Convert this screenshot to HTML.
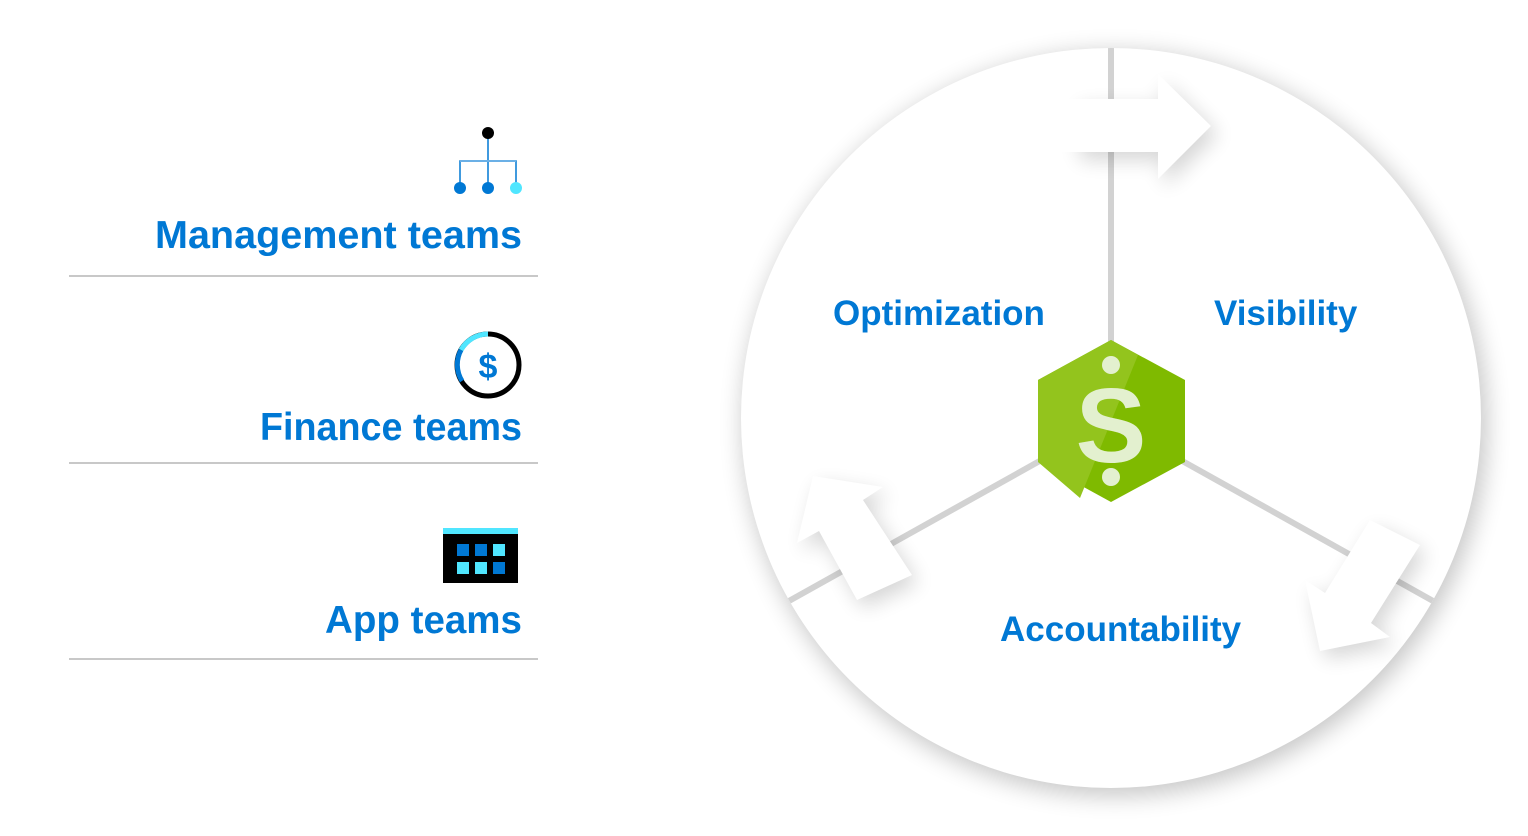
<!DOCTYPE html>
<html><head><meta charset="utf-8"><style>
html,body{margin:0;padding:0;background:#fff;width:1528px;height:836px;overflow:hidden}
svg{display:block}
text{font-family:"Liberation Sans","DejaVu Sans",sans-serif;fill:#0078d4;font-weight:bold}
</style></head><body>
<svg width="1528" height="836" viewBox="0 0 1528 836" xmlns="http://www.w3.org/2000/svg">
<defs>
<filter id="sh" x="-20%" y="-20%" width="140%" height="140%"><feGaussianBlur stdDeviation="12"/></filter>
<filter id="ash" x="-50%" y="-50%" width="200%" height="200%"><feGaussianBlur stdDeviation="10"/></filter>
<clipPath id="cc"><circle cx="1111" cy="418" r="370"/></clipPath>
<linearGradient id="fadeL" x1="0" y1="0" x2="1" y2="0"><stop offset="0" stop-color="#fff" stop-opacity="0"/><stop offset="0.5" stop-color="#fff" stop-opacity="1"/></linearGradient>
</defs>
<circle cx="1115" cy="424" r="372" fill="#000" opacity="0.22" filter="url(#sh)"/>
<circle cx="1111" cy="418" r="370" fill="#fff"/>
<g clip-path="url(#cc)">
<line x1="1111" y1="40" x2="1111" y2="345" stroke="#d2d2d2" stroke-width="6"/>
<line x1="1045" y1="458" x2="780" y2="606" stroke="#d2d2d2" stroke-width="6"/>
<line x1="1177" y1="458" x2="1442" y2="606" stroke="#d2d2d2" stroke-width="6"/>
<g fill="#000" opacity="0.16" filter="url(#ash)">
<polygon points="1080,107 1164,107 1164,82 1218,134 1164,187 1164,160 1080,160"/>
<polygon points="819,484 889,495 869,508 918,583 863,608 825,539 803,551"/>
<polygon points="1311,588 1331,601 1376,528 1426,553 1377,631 1396,645 1326,659"/>
</g>
<rect x="1020" y="99" width="60" height="53" fill="url(#fadeL)"/>
<polygon points="1070,99 1158,99 1158,74 1211,126 1158,179 1158,152 1070,152" fill="#fff"/>
<polygon points="813,476 883,487 863,500 912,575 857,600 819,531 797,543" fill="#fff"/>
<polygon points="1305,580 1325,593 1370,520 1420,545 1371,623 1390,637 1320,651" fill="#fff"/>
</g>
<polygon points="1111,340 1185,380 1185,462 1111,502 1038,462 1038,380" fill="#7fba00"/>
<polygon points="1111,340 1138,355 1080,498 1038,462 1038,380" fill="#93c41d"/>
<circle cx="1111" cy="365" r="9" fill="#e3f0cf"/>
<circle cx="1111" cy="477" r="9" fill="#e3f0cf"/>
<text x="1111" y="462" text-anchor="middle" font-size="106" style="fill:#e3f0cf">S</text>
<text x="833" y="325" font-size="35">Optimization</text>
<text x="1214" y="325" font-size="35">Visibility</text>
<text x="1000" y="641" font-size="35">Accountability</text>
<text x="522" y="248" text-anchor="end" font-size="39" textLength="367" lengthAdjust="spacingAndGlyphs">Management teams</text>
<text x="522" y="440" text-anchor="end" font-size="39" textLength="262" lengthAdjust="spacingAndGlyphs">Finance teams</text>
<text x="522" y="633" text-anchor="end" font-size="39" textLength="197" lengthAdjust="spacingAndGlyphs">App teams</text>
<line x1="69" y1="276" x2="538" y2="276" stroke="#c8c8c8" stroke-width="2"/>
<line x1="69" y1="463" x2="538" y2="463" stroke="#c8c8c8" stroke-width="2"/>
<line x1="69" y1="659" x2="538" y2="659" stroke="#c8c8c8" stroke-width="2"/>
<line x1="488" y1="133" x2="488" y2="188" stroke="#0078d4" stroke-width="1.5"/>
<polyline points="460,188 460,161 516,161 516,188" fill="none" stroke="#0078d4" stroke-width="1.5"/>
<line x1="460" y1="161" x2="516" y2="161" stroke="#6bb0e6" stroke-width="2"/>
<circle cx="488" cy="133" r="6" fill="#000"/>
<circle cx="460" cy="188" r="6" fill="#0078d4"/>
<circle cx="488" cy="188" r="6" fill="#0078d4"/>
<circle cx="516" cy="188" r="6" fill="#50e6ff"/>
<circle cx="488" cy="365" r="31" fill="none" stroke="#000" stroke-width="5"/>
<path d="M488,334 A31,31 0 0 0 461,350" fill="none" stroke="#50e6ff" stroke-width="5"/>
<path d="M461,350 A31,31 0 0 0 462,381" fill="none" stroke="#0078d4" stroke-width="5"/>
<text x="488" y="378" text-anchor="middle" font-size="34">$</text>
<rect x="443" y="528" width="75" height="55" fill="#000"/>
<rect x="443" y="528" width="75" height="6" fill="#50e6ff"/>
<rect x="457" y="544" width="12" height="12" fill="#0078d4"/>
<rect x="475" y="544" width="12" height="12" fill="#0078d4"/>
<rect x="493" y="544" width="12" height="12" fill="#50e6ff"/>
<rect x="457" y="562" width="12" height="12" fill="#50e6ff"/>
<rect x="475" y="562" width="12" height="12" fill="#50e6ff"/>
<rect x="493" y="562" width="12" height="12" fill="#0078d4"/>
</svg>
</body></html>
